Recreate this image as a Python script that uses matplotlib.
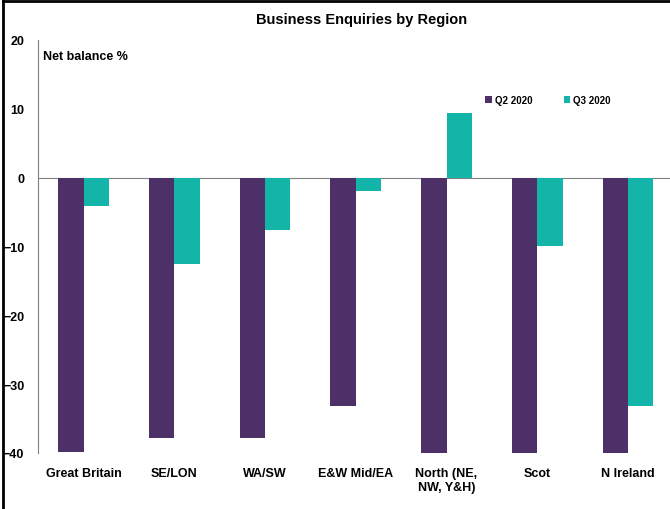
import matplotlib.pyplot as plt
import matplotlib.lines as mlines
import numpy as np

plt.rcParams['font.family'] = ['Liberation Sans', 'DejaVu Sans']

regions = ['Great Britain', 'SE/LON', 'WA/SW', 'E&W Mid/EA', 'North (NE,\nNW, Y&H)', 'Scot', 'N Ireland']
q2_2020 = [-39.8, -37.8, -37.9, -33.2, -40, -40, -40]
q3_2020 = [-4.2, -12.6, -7.6, -2.0, 9.3, -9.9, -33.2]

purple = '#4D3068'
teal = '#14B5A9'

fig = plt.figure(figsize=(6.7, 5.1), dpi=100)
ax = fig.add_axes([0.057, 0.11, 0.948, 0.81])

x = np.arange(len(regions))
w = 0.28
ax.bar(x - w / 2, q2_2020, w, color=purple, label='Q2 2020')
ax.bar(x + w / 2, q3_2020, w, color=teal, label='Q3 2020')

ax.axhline(0, color='#808080', lw=0.8, zorder=0)
ax.set_ylim(-40, 20)
ax.set_xlim(-0.5, len(regions) - 0.5)
ax.set_yticks([-40, -30, -20, -10, 0, 10, 20])
ax.set_xticks(x)
ax.set_xticklabels(regions, fontsize=9, fontweight='bold')
ax.tick_params(axis='x', length=0, pad=10)
ax.tick_params(axis='y', length=0, pad=10, labelsize=9)
for lab in ax.get_yticklabels():
    lab.set_fontweight('bold')

for s in ['top', 'right', 'bottom']:
    ax.spines[s].set_visible(False)
ax.spines['left'].set_color('#808080')
ax.spines['left'].set_linewidth(0.8)

ax.text(0.008, 0.975, 'Net balance %', transform=ax.transAxes, fontsize=9,
        fontweight='bold', va='top', ha='left')

ax.legend(loc='upper left', bbox_to_anchor=(0.69, 0.888), ncol=2, frameon=False,
          prop={'size': 7, 'weight': 'bold'}, handlelength=0.7, handleheight=0.7,
          handletextpad=0.3, columnspacing=3.2)

fig.text(0.54, 0.96, 'Business Enquiries by Region', ha='center', va='center',
         fontsize=10.5, fontweight='bold')

# outer frame (left and top edges visible)
fig.add_artist(mlines.Line2D([0.004, 0.004], [0, 0.996], color='black', lw=2, transform=fig.transFigure))
fig.add_artist(mlines.Line2D([0.004, 1], [0.996, 0.996], color='black', lw=2, transform=fig.transFigure))

fig.savefig('out.png', dpi=100)
